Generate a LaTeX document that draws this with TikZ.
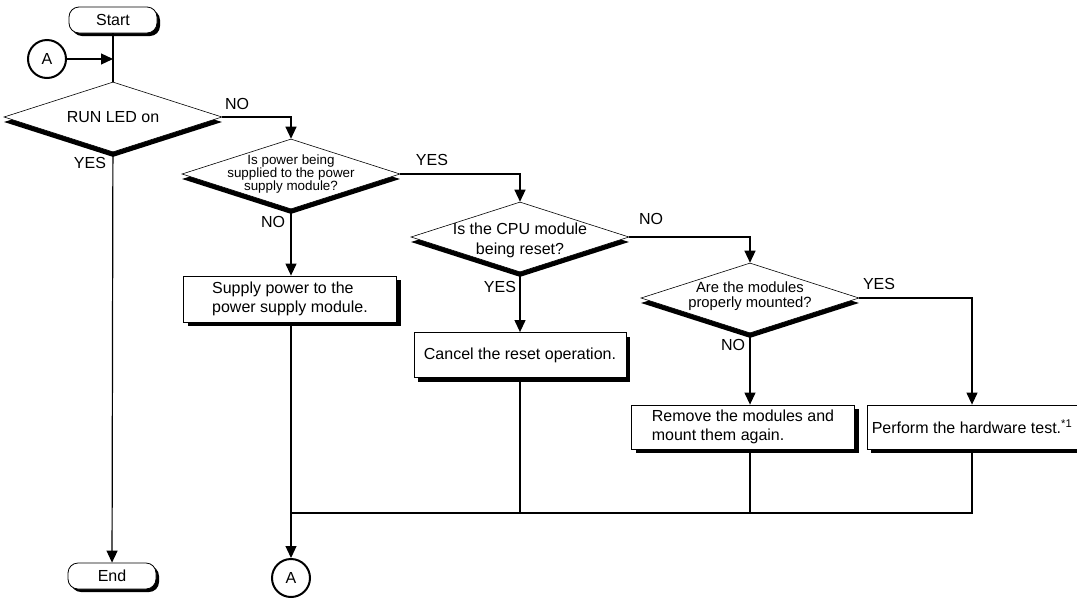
\documentclass[tikz,border=0pt]{standalone}
\usepackage{fontspec}
\setmainfont{Liberation Sans}
\usetikzlibrary{arrows.meta,shapes.geometric,shadows}

\begin{document}
\begin{tikzpicture}[x=1pt,y=-1pt,>={Triangle[length=12pt,width=11pt]},
  conn/.style={line width=1.2pt},
  lbl/.style={inner sep=0pt,font=\fontsize{16}{19}\selectfont},
  term/.style={draw,fill=white,rounded corners=10pt,line width=0.8pt,minimum width=88pt,minimum height=26pt,inner sep=0pt,font=\fontsize{16}{19}\selectfont,drop shadow={shadow xshift=3pt,shadow yshift=-3pt,opacity=1,fill=black}},
  decision/.style={diamond,draw,fill=white,line width=0.6pt,inner sep=0pt,minimum width=218pt,minimum height=70pt,drop shadow={shadow xshift=0pt,shadow yshift=-5pt,opacity=1,fill=black}},
  dtext/.style={align=center,inner sep=0pt,font=\fontsize{16}{20}\selectfont},
  process/.style={draw,fill=white,line width=0.8pt,align=left,inner sep=0pt,font=\fontsize{16}{19}\selectfont,drop shadow={shadow xshift=4pt,shadow yshift=-4pt,opacity=1,fill=black}},
  conr/.style={circle,draw,line width=2pt,minimum size=38pt,inner sep=0pt,font=\fontsize{16}{19}\selectfont}]
\path[use as bounding box,fill=white] (0,0) rectangle (1077,598);
\node[term] (st) at (113,20) {Start};
\node[term] (en) at (112,576) {End};
\node[conr] (ca1) at (47,59) {A};
\node[conr] (ca2) at (291,578) {A};
\node[decision,label={[dtext]center:RUN LED on}] (d1) at (113,117) {};
\node[decision,label={[dtext,font=\fontsize{13.4}{13.4}\selectfont]center:{Is power being\\supplied to the power\\supply module?}}] (d2) at (291,174) {};
\node[decision,label={[dtext,yshift=-3pt]center:{Is the CPU module\\being reset?}}] (d3) at (520,237) {};
\node[decision,label={[dtext,font=\fontsize{14.8}{14.8}\selectfont,yshift=2pt]center:{Are the modules\\properly mounted?}}] (d4) at (750,298) {};
\node[process,minimum width=213pt,minimum height=46pt] (supply) at (290,299) {Supply power to the\\power supply module.};
\node[process,minimum width=212pt,minimum height=45pt] (cancel) at (520,355) {Cancel the reset operation.};
\node[process,minimum width=223pt,minimum height=44pt] (rm) at (743,427) {Remove the modules and\\mount them again.};
\node[process,minimum width=210pt,minimum height=44pt] (hw) at (972,427) {Perform the hardware test.\textsuperscript{*1}};
\coordinate (j) at (291,513);
\draw[conn] (st) -- (d1);
\draw[conn,->] (ca1) -- (ca1 -| st);
\draw[conn,->] (d1) -- (en);
\draw[conn,->] (d1.east) -| (d2.north);
\draw[conn,->] (d2.east) -| (d3.north);
\draw[conn,->] (d2.south) -- (d2.south |- supply.north);
\draw[conn,->] (d3.east) -| (d4.north);
\draw[conn,->] (d3.south) -- (d3.south |- cancel.north);
\draw[conn,->] (d4.east) -| (hw.north);
\draw[conn,->] (d4.south) -- (d4.south |- rm.north);
\draw[conn,->] (ca2 |- supply.south) -- (ca2);
\draw[conn] (hw.south) |- (j);
\draw[conn] (d4.south |- rm.south) -- (d4.south |- j);
\draw[conn] (cancel.south) -- (cancel.south |- j);
\node[lbl] (yes1) at (90,163) {YES};
\node[lbl] (no1) at (237,104) {NO};
\node[lbl] (yes2) at (432,160) {YES};
\node[lbl] (no2) at (273,222) {NO};
\node[lbl] (no3) at (651,219) {NO};
\node[lbl] (yes3) at (500,287) {YES};
\node[lbl] (yes4) at (879,284) {YES};
\node[lbl] (no4) at (733,345) {NO};
\end{tikzpicture}
\end{document}
